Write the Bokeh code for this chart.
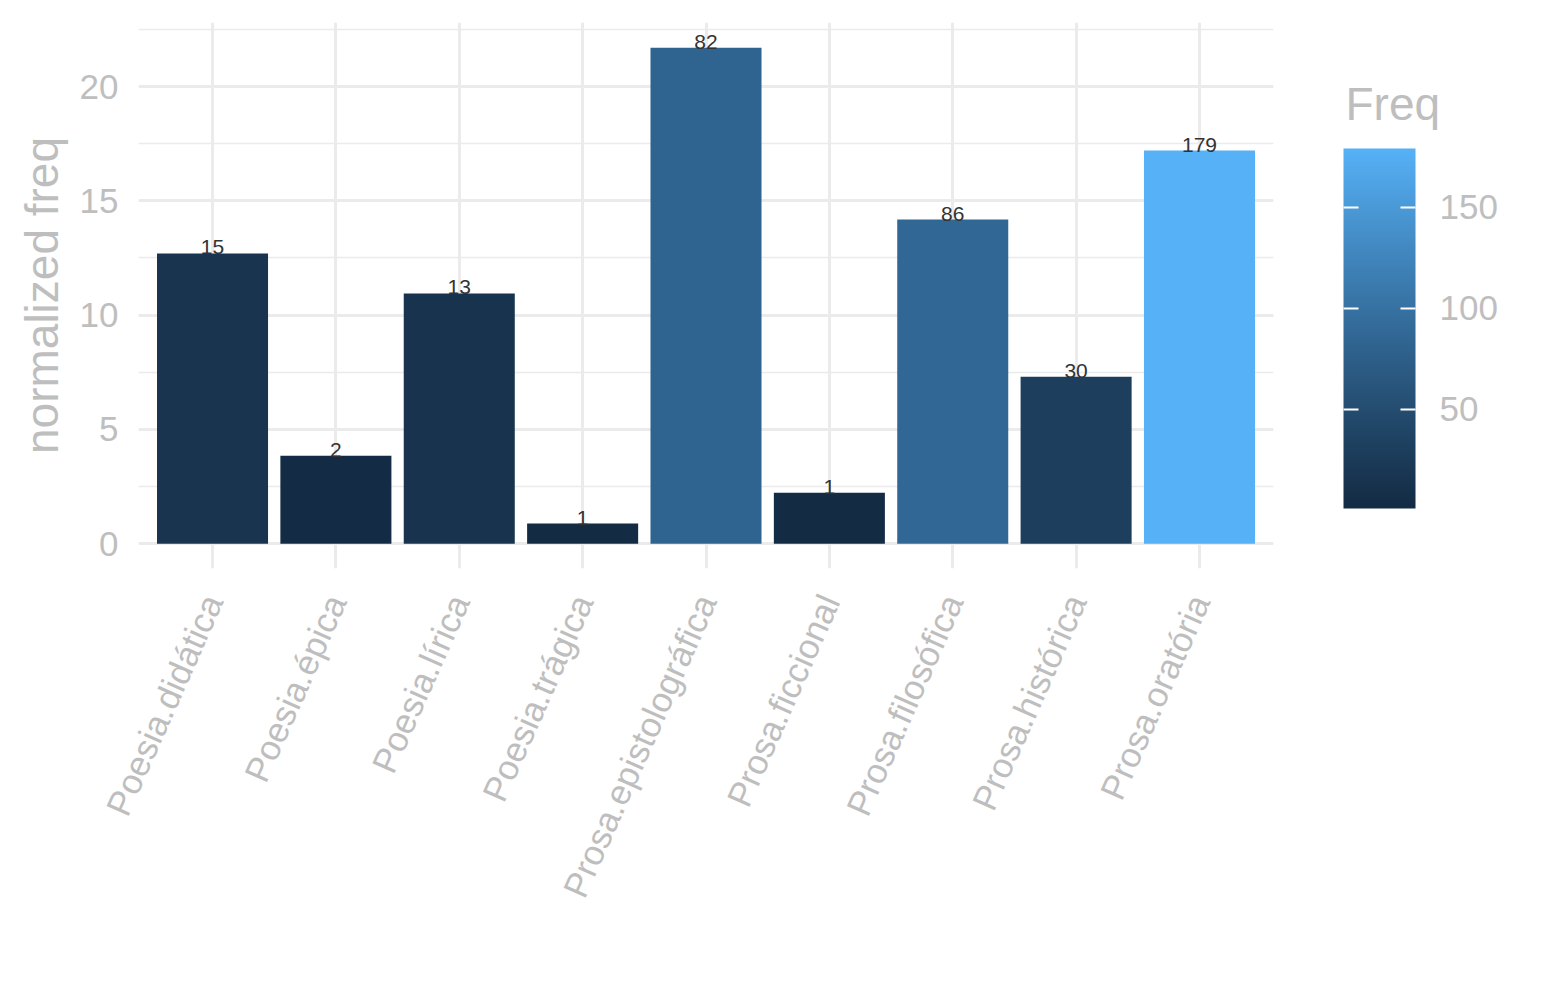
import math
from bokeh.plotting import figure
from bokeh.models import (ColumnDataSource, FactorRange, Range1d, SingleIntervalTicker,
                          FixedTicker, LinearColorMapper, ColorBar, Label)
from bokeh.transform import transform
from bokeh.core.properties import value
from bokeh.embed import file_html
from bokeh.resources import INLINE

# Data
genres = ['Poesia.didática', 'Poesia.épica', 'Poesia.lírica', 'Poesia.trágica',
          'Prosa.epistolográfica', 'Prosa.ficcional', 'Prosa.filosófica',
          'Prosa.histórica', 'Prosa.oratória']
norm_freq = [12.7, 3.85, 10.95, 0.88, 21.7, 2.23, 14.18, 7.3, 17.2]
freq = [15, 2, 13, 1, 82, 1, 86, 30, 179]
legend_ticks = [50, 100, 150]

FONT = "Liberation Sans"
GREY = "#bebebe"
GRID = "#ebebeb"


# ggplot-like gradient (#132B43 -> #56B1F7), interpolated in CIELAB
def hex_to_lab(h):
    rgb = [int(h[i:i + 2], 16) / 255 for i in (1, 3, 5)]
    lin = [c / 12.92 if c <= 0.04045 else ((c + 0.055) / 1.055) ** 2.4 for c in rgb]
    x = (0.4124 * lin[0] + 0.3576 * lin[1] + 0.1805 * lin[2]) / 0.95047
    y = (0.2126 * lin[0] + 0.7152 * lin[1] + 0.0722 * lin[2])
    z = (0.0193 * lin[0] + 0.1192 * lin[1] + 0.9505 * lin[2]) / 1.08883
    f = lambda t: t ** (1 / 3) if t > 0.008856 else 7.787 * t + 16 / 116
    fx, fy, fz = f(x), f(y), f(z)
    return 116 * fy - 16, 500 * (fx - fy), 200 * (fy - fz)


def lab_to_hex(L, a, b):
    fy = (L + 16) / 116
    fx = fy + a / 500
    fz = fy - b / 200
    finv = lambda t: t ** 3 if t ** 3 > 0.008856 else (t - 16 / 116) / 7.787
    x, y, z = finv(fx) * 0.95047, finv(fy), finv(fz) * 1.08883
    r = 3.2406 * x - 1.5372 * y - 0.4986 * z
    g = -0.9689 * x + 1.8758 * y + 0.0415 * z
    bl = 0.0557 * x - 0.2040 * y + 1.0570 * z
    out = []
    for c in (r, g, bl):
        c = 12.92 * c if c <= 0.0031308 else 1.055 * c ** (1 / 2.4) - 0.055
        out.append(min(255, max(0, round(c * 255))))
    return "#%02x%02x%02x" % tuple(out)


lo, hi = hex_to_lab("#132B43"), hex_to_lab("#56B1F7")
palette = [lab_to_hex(*[lo[k] + (hi[k] - lo[k]) * i / 255 for k in range(3)]) for i in range(256)]
mapper = LinearColorMapper(palette=palette, low=min(freq), high=max(freq))

source = ColumnDataSource(dict(genre=genres, nf=norm_freq, freq=freq,
                               label=[str(v) for v in freq]))

p = figure(
    x_range=FactorRange(factors=genres, range_padding=0.1, range_padding_units="absolute"),
    y_range=Range1d(-1.085, 22.8),
    frame_width=1135, frame_height=546,
    min_border_left=138, min_border_top=22, min_border_right=260, min_border_bottom=400,
    output_backend="svg", toolbar_location=None, tools="",
    background_fill_color="white", border_fill_color="white",
)
p.outline_line_color = None

p.vbar(x='genre', top='nf', width=0.9, source=source,
       fill_color=transform('freq', mapper), line_color=None)

p.text(x='genre', y='nf', text='label', source=source,
       text_align='center', text_baseline='alphabetic', y_offset=-6,
       text_font=value(FONT), text_font_size='21px', text_color='#333333')

# grid
p.xgrid.grid_line_color = GRID
p.xgrid.grid_line_width = 3
p.yaxis.ticker = SingleIntervalTicker(interval=5, num_minor_ticks=2)
p.ygrid.grid_line_color = GRID
p.ygrid.grid_line_width = 3
p.ygrid.minor_grid_line_color = GRID
p.ygrid.minor_grid_line_width = 1.5

# axes
for ax in (p.xaxis[0], p.yaxis[0]):
    ax.axis_line_color = None
    ax.major_tick_line_color = None
    ax.minor_tick_line_color = None
    ax.major_label_text_font = FONT
    ax.major_label_text_font_size = '35px'
    ax.major_label_text_color = GREY

p.yaxis.axis_label = 'normalized freq'
p.yaxis.axis_label_text_font = FONT
p.yaxis.axis_label_text_font_size = '46px'
p.yaxis.axis_label_text_font_style = 'normal'
p.yaxis.axis_label_text_color = GREY
p.yaxis.axis_label_standoff = 9
p.yaxis.major_label_standoff = 14

p.xaxis.major_label_orientation = math.radians(66)
p.xaxis.major_label_standoff = 22

# colour bar legend
color_bar = ColorBar(
    color_mapper=mapper, ticker=FixedTicker(ticks=legend_ticks),
    width=72, height=360, padding=0, margin=0,
    location=(1205, 60),
    major_label_text_font=FONT, major_label_text_font_size='35px',
    major_label_text_color=GREY, label_standoff=24,
    major_tick_line_color='white', major_tick_line_width=2,
    major_tick_in=72, major_tick_out=0, major_tick_line_dash="15 42",
    bar_line_color=None, border_line_color=None, background_fill_color=None,
)
p.add_layout(color_bar, 'center')

legend_title = Label(x=72, y=465, x_units='screen', y_units='screen', text='Freq',
                     text_font=FONT, text_font_size='46px', text_color=GREY,
                     text_baseline='alphabetic')
p.add_layout(legend_title, 'right')

open("out.html", "w").write(file_html(p, INLINE))
